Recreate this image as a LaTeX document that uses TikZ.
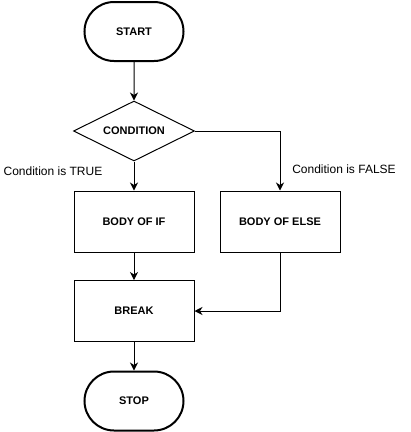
\documentclass[tikz,border=0pt]{standalone}
\usepackage{fontspec}
\setmainfont{Liberation Sans}
\usetikzlibrary{shapes.geometric,shapes.misc,arrows.meta}
\begin{document}
\begin{tikzpicture}[x=1pt,y=-1pt,
  term/.style={rounded rectangle,draw,line width=2pt,minimum width=99pt,minimum height=59pt,inner sep=0pt,font=\bfseries\fontsize{11}{13}\selectfont},
  decis/.style={diamond,draw,line width=1pt,aspect=2,minimum width=121pt,minimum height=60pt,inner sep=0pt,font=\bfseries\fontsize{11}{13}\selectfont},
  procbox/.style={rectangle,draw,line width=1pt,minimum width=120pt,minimum height=61pt,inner sep=0pt,font=\bfseries\fontsize{11}{13}\selectfont},
  lbl/.style={font=\fontsize{12}{14}\selectfont,inner sep=0pt},
  arr/.style={line width=1pt,-{Stealth[length=8pt,width=8pt,inset=2.5pt]}}]
\useasboundingbox (0,0) rectangle (411,432);
\fill[white] (0,0) rectangle (411,432);
\node[term] (start) at (134,31.5) {START};
\node[decis] (cond) at (134,131) {CONDITION};
\node[procbox] (if) at (134,221.5) {BODY OF IF};
\node[procbox] (else) at (280,221.5) {BODY OF ELSE};
\node[procbox] (brk) at (134,311) {BREAK};
\node[term] (stop) at (134,401) {STOP};
\node[lbl] (ltrue) at (53,171) {Condition is TRUE};
\node[lbl] (lfalse) at (344,169) {Condition is FALSE};
\draw[arr] (start) -- (cond);
\draw[arr] (cond) -- (if);
\draw[arr] (cond.east) -| (else.north);
\draw[arr] (if) -- (brk);
\draw[arr] (else.south) |- (brk.east);
\draw[arr] (brk) -- (stop);
\end{tikzpicture}
\end{document}
